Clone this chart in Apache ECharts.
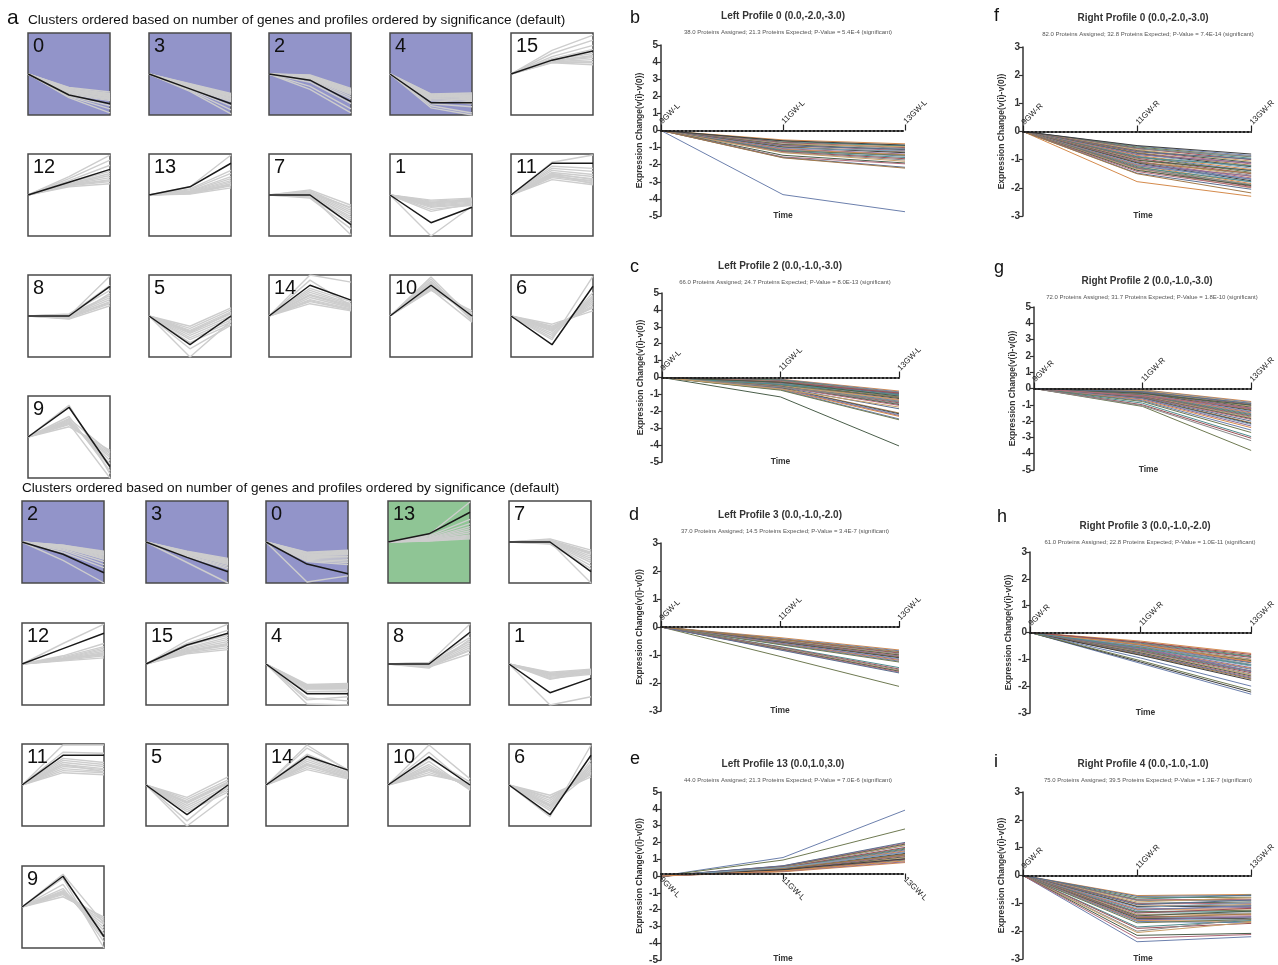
<!DOCTYPE html>
<html><head><meta charset="utf-8">
<script src="https://cdn.jsdelivr.net/npm/echarts@6/dist/echarts.min.js"></script>
<style>html,body{margin:0;padding:0;background:#fff}#c{width:1278px;height:965px}</style>
</head><body><div id="c"></div>
<script>
// ---------------- DATA ----------------
const smallX = ['t0','t1','t2'];
// Top grid (Right side clusters)
const rightIds = ['0','3','2','4','15','12','13','7','1','11','8','5','14','10','6','9'];
const rightFill = ['p','p','p','p','w','w','w','w','w','w','w','w','w','w','w','w'];
const rightModels = [
 [0,-2.05,-2.9],[0,-1.45,-2.9],[0,-0.6,-2.7],[0,-2.8,-2.8],[0,1.35,2.25],
 [0,1.25,2.5],[0,0.8,3.1],[0,0,-2.9],[0,-2.7,-1.2],[0,3.1,3.1],
 [0,0,2.9],[0,-2.8,0],[0,3.0,1.55],[0,3.0,0],[0,-2.8,2.9],
 [0,2.9,-2.9]
];
const rightGenes = [
 [[-1.3,-1.75],[-1.4,-1.9],[-1.5,-2.0],[-1.6,-2.1],[-1.7,-2.2],[-1.8,-2.35],[-1.9,-2.5],[-2.0,-2.6],[-1.5,-2.3],[-1.7,-2.45],[-2.2,-3.4],[-2.3,-3.8],[-2.1,-3.1],[-1.35,-1.95],[-1.55,-2.15],[-1.75,-2.4]],
 [[-0.95,-1.9],[-1.05,-2.05],[-1.1,-2.15],[-1.2,-2.3],[-1.25,-2.4],[-1.3,-2.5],[-1.35,-2.6],[-1.4,-2.7],[-1.5,-3.1],[-1.6,-3.5],[-1.7,-3.9],[-1.15,-2.2],[-1.0,-2.0],[-1.28,-2.45]],
 [[-0.1,-1.4],[-0.2,-1.5],[-0.3,-1.6],[-0.35,-1.7],[-0.4,-1.85],[-0.45,-2.0],[-0.5,-2.2],[-0.6,-2.4],[-0.8,-2.9],[-1.2,-3.4],[-1.5,-3.8],[-0.3,-1.9],[-0.15,-1.55],[-0.25,-1.75]],
 [[-1.95,-1.85],[-2.0,-1.95],[-2.1,-2.05],[-2.15,-2.15],[-2.2,-2.3],[-2.3,-2.4],[-2.4,-2.5],[-2.5,-2.7],[-2.6,-2.9],[-2.9,-3.2],[-3.1,-3.8],[-3.3,-4.0],[-2.25,-2.2],[-2.05,-2.1],[-2.35,-2.6]],
 [[1.1,0.9],[1.15,1.2],[1.2,1.4],[1.25,1.6],[1.3,1.8],[1.4,2.0],[1.5,2.4],[1.7,2.8],[2.0,3.3],[2.3,3.8],[1.2,1.1],[1.35,1.7]],
 [[0.8,1.1],[0.9,1.3],[0.95,1.5],[1.0,1.7],[1.05,1.9],[1.1,2.1],[1.2,2.3],[1.4,2.9],[1.6,3.4],[1.8,3.9],[1.0,1.4]],
 [[0.1,0.7],[0.15,0.9],[0.2,1.1],[0.25,1.25],[0.3,1.4],[0.35,1.6],[0.4,1.8],[0.5,2.1],[0.6,2.4],[0.8,3.9],[0.2,1.0]],
 [[0.5,-1.0],[0.4,-1.3],[0.3,-1.5],[0.2,-1.7],[0.1,-1.9],[0.0,-2.1],[0.05,-2.3],[-0.1,-2.5],[-0.2,-2.8],[-0.3,-3.3],[0.0,-3.9],[0.2,-1.2]],
 [[-0.5,-0.3],[-0.6,-0.4],[-0.7,-0.45],[-0.8,-0.5],[-0.9,-0.6],[-1.0,-0.7],[-1.1,-0.8],[-1.2,-0.9],[-1.4,-1.0],[-1.6,-0.85],[-4.0,-1.1],[-0.75,-0.55]],
 [[1.5,1.0],[1.7,1.2],[1.8,1.4],[1.9,1.3],[2.0,1.6],[2.1,1.5],[2.2,1.8],[2.4,2.0],[2.6,2.3],[2.8,2.6],[3.2,3.9],[2.0,1.1]],
 [[-0.3,1.0],[-0.2,1.2],[-0.1,1.4],[0,1.6],[0.1,1.8],[0.15,2.0],[-0.25,2.2],[0.2,2.5],[0.1,3.0],[0.0,3.9],[-0.1,1.3]],
 [[-1.0,0.8],[-1.2,0.6],[-1.4,0.4],[-1.5,0.2],[-1.7,0.0],[-1.9,-0.2],[-2.1,-0.4],[-2.3,-0.6],[-2.6,-0.8],[-3.2,-0.9],[-4.0,-0.5],[-1.6,0.3]],
 [[1.2,0.5],[1.4,0.6],[1.6,0.7],[1.8,0.8],[2.0,0.9],[2.1,1.0],[2.3,1.1],[2.5,1.2],[2.7,1.4],[4.0,3.3],[3.5,1.0],[1.5,0.6]],
 [[2.5,0.5],[2.7,0.3],[2.8,0.1],[2.9,-0.1],[3.1,-0.2],[3.2,-0.3],[3.4,-0.4],[3.6,-0.5],[3.8,-0.2],[3.3,0.2],[2.6,-0.6]],
 [[-0.8,0.5],[-1.0,0.8],[-1.1,1.0],[-1.3,1.2],[-1.4,1.4],[-1.5,1.6],[-1.7,1.8],[-1.9,2.0],[-2.1,2.3],[-2.3,3.9],[-1.2,0.9]],
 [[1.0,-1.3],[1.2,-1.6],[1.3,-1.8],[1.4,-2.0],[1.5,-2.3],[1.6,-2.6],[1.7,-2.9],[2.0,-3.3],[3.1,-3.6],[1.3,-4.0],[1.8,-1.5]]
];
// Bottom grid (Left side clusters)
const leftIds = ['2','3','0','13','7','12','15','4','8','1','11','5','14','10','6','9'];
const leftFill = ['p','p','p','g','w','w','w','w','w','w','w','w','w','w','w','w'];
const leftModels = [
 [0,-1.2,-3.0],[0,-1.5,-2.9],[0,-2.15,-3.1],[0,0.8,2.9],[0,0,-2.9],
 [0,1.5,3.0],[0,1.85,3.0],[0,-2.9,-2.9],[0,0,3.1],[0,-2.8,-1.4],
 [0,2.9,2.9],[0,-2.9,0],[0,2.8,1.45],[0,2.75,0],[0,-2.9,2.9],
 [0,3.0,-2.9]
];
const leftGenes = [
 [[-0.3,-0.9],[-0.35,-1.1],[-0.4,-1.2],[-0.45,-1.3],[-0.5,-1.4],[-0.55,-1.5],[-0.6,-1.6],[-0.7,-1.9],[-0.8,-2.2],[-1.0,-2.5],[-1.8,-4.0],[-0.5,-1.7],[-0.32,-1.0],[-0.42,-1.25]],
 [[-0.9,-1.6],[-1.0,-1.75],[-1.05,-1.9],[-1.1,-2.0],[-1.15,-2.1],[-1.2,-2.2],[-1.3,-2.35],[-1.35,-2.5],[-1.4,-2.65],[-2.0,-4.0],[-1.2,-1.8],[-0.95,-1.7],[-1.08,-1.95]],
 [[-1.0,-0.8],[-1.1,-1.0],[-1.2,-1.1],[-1.3,-1.25],[-1.4,-1.4],[-1.5,-1.55],[-1.6,-1.7],[-1.7,-1.85],[-1.8,-2.0],[-1.9,-2.2],[-3.9,-3.3],[-1.35,-1.2],[-1.05,-0.9],[-1.25,-1.15]],
 [[0.1,0.3],[0.15,0.5],[0.2,0.7],[0.25,0.9],[0.3,1.1],[0.35,1.3],[0.4,1.5],[0.5,1.8],[0.6,2.2],[0.7,3.9],[0.2,0.6],[0.12,0.4]],
 [[0.3,-0.8],[0.2,-1.0],[0.15,-1.2],[0.1,-1.4],[0.05,-1.6],[0,-1.8],[-0.1,-2.0],[-0.15,-2.3],[-0.2,-2.6],[0.0,-4.0],[0.1,-1.1]],
 [[0.3,0.6],[0.35,0.8],[0.4,1.0],[0.45,1.1],[0.5,1.25],[0.55,1.4],[0.6,1.55],[0.7,1.7],[0.8,2.0],[2.0,3.9],[0.5,0.9]],
 [[1.0,1.4],[1.1,1.6],[1.2,1.8],[1.3,2.0],[1.4,2.2],[1.5,2.4],[1.6,2.6],[1.8,2.8],[2.0,3.3],[2.3,3.9],[1.25,1.9]],
 [[-2.0,-1.9],[-2.05,-2.0],[-2.1,-2.1],[-2.2,-2.2],[-2.3,-2.3],[-2.4,-2.4],[-2.5,-2.55],[-2.7,-2.7],[-3.3,-3.6],[-3.9,-4.0],[-2.2,-2.0],[-3.5,-3.2]],
 [[-0.3,1.0],[-0.25,1.3],[-0.2,1.6],[-0.1,1.8],[0,2.0],[0.1,2.2],[-0.4,2.4],[0.15,2.6],[0.0,3.0],[0.1,3.9],[-0.2,1.4]],
 [[-0.8,-0.5],[-0.9,-0.6],[-1.0,-0.65],[-1.05,-0.7],[-1.1,-0.8],[-1.2,-0.85],[-1.3,-0.9],[-1.4,-1.0],[-1.5,-0.75],[-4.0,-3.2],[-1.0,-0.55]],
 [[1.2,1.0],[1.4,1.2],[1.6,1.3],[1.8,1.5],[2.0,1.6],[2.2,1.8],[2.4,2.0],[2.6,2.2],[3.2,3.1],[3.9,3.9],[2.0,1.3]],
 [[-1.2,0.8],[-1.4,0.5],[-1.6,0.3],[-1.8,0.1],[-2.0,-0.1],[-2.2,-0.3],[-2.4,-0.5],[-2.6,-0.7],[-3.5,-0.2],[-4.0,-1.0],[-1.7,0.2]],
 [[1.5,0.6],[1.7,0.7],[1.9,0.8],[2.1,0.9],[2.3,1.0],[2.5,1.1],[2.7,1.2],[3.0,1.35],[3.6,1.5],[3.9,1.4],[2.0,0.7]],
 [[1.0,0.2],[1.2,0.0],[1.4,-0.1],[1.6,-0.2],[1.8,-0.3],[2.0,-0.4],[2.3,-0.5],[2.6,0.3],[3.9,0.6],[3.2,-0.2],[1.5,0.1]],
 [[-1.0,0.8],[-1.3,1.1],[-1.5,1.3],[-1.7,1.5],[-1.9,1.7],[-2.1,1.9],[-2.3,2.1],[-2.5,2.4],[-3.1,3.9],[-2.0,1.2],[-1.2,1.0]],
 [[1.0,-1.0],[1.2,-1.4],[1.3,-1.7],[1.4,-2.0],[1.5,-2.3],[1.6,-2.6],[1.8,-3.0],[2.2,-3.4],[3.2,-1.6],[2.8,-4.0],[1.4,-1.2]]
];

const timeLeft = ['9GW-L','11GW-L','13GW-L'];
const timeRight = ['9GW-R','11GW-R','13GW-R'];

// each protein: [value at 11GW, value at 13GW]; value at 9GW is 0
const profB = [[-0.55,-0.78],[-3.75,-4.75],[-0.62,-0.92],[-0.68,-0.88],[-0.7,-1.0],[-0.74,-1.05],[-0.8,-0.95],[-0.82,-1.12],[-0.86,-1.18],[-0.9,-1.1],[-0.95,-1.25],[-0.98,-1.3],[-1.02,-1.2],[-1.06,-1.38],[-1.1,-1.42],[-1.14,-1.5],[-1.18,-1.45],[-1.2,-1.58],[-1.24,-1.65],[-1.28,-1.72],[-1.3,-1.8],[-1.45,-1.9],[-1.55,-1.95],[-1.58,-2.15],[-1.6,-2.2],[-0.6,-0.85]];
const profC = [[-0.1,-0.8],[-0.12,-0.85],[-0.15,-0.9],[-0.18,-0.95],[-0.2,-1.0],[-0.22,-0.88],[-0.25,-1.05],[-1.15,-4.05],[-0.3,-1.15],[-0.3,-0.98],[-0.33,-1.2],[-0.35,-1.25],[-0.36,-1.08],[-0.38,-1.3],[-0.4,-1.35],[-0.42,-1.4],[-0.44,-1.18],[-0.45,-1.45],[-0.48,-1.5],[-0.5,-1.55],[-0.5,-1.3],[-0.52,-1.6],[-0.55,-1.65],[-0.58,-1.85],[-0.6,-2.1],[-0.62,-2.15],[-0.64,-2.2],[-0.66,-2.25],[-0.7,-2.3],[-0.72,-2.45],[-0.75,-2.5],[-0.4,-1.02],[-0.26,-0.92],[-0.56,-1.42],[-0.68,-1.75],[-0.28,-1.1]];
const profD = [[-0.38,-0.82],[-0.41,-0.85],[-1.05,-2.12],[-0.44,-0.91],[-0.45,-0.93],[-0.47,-0.96],[-0.48,-0.99],[-0.5,-1.0],[-0.51,-1.03],[-0.52,-1.06],[-0.54,-1.08],[-0.55,-1.1],[-0.57,-1.13],[-0.58,-1.16],[-0.6,-1.19],[-0.61,-1.22],[-0.63,-1.25],[-0.7,-1.45],[-0.72,-1.5],[-0.74,-1.53],[-0.77,-1.56],[-0.78,-1.58],[-0.8,-1.61],[-0.82,-1.64],[-0.43,-0.88]];
const profE = [[0.25,0.8],[1.1,3.92],[0.95,2.8],[0.31,0.95],[0.32,1.0],[0.34,1.05],[0.35,1.1],[0.36,1.15],[0.38,1.2],[0.4,1.25],[0.41,1.3],[0.42,1.35],[0.44,1.4],[0.45,1.45],[0.46,1.5],[0.48,1.55],[0.5,1.6],[0.51,1.65],[0.52,1.7],[0.55,1.8],[0.56,1.85],[0.58,1.9],[0.6,1.95],[0.61,2.0],[0.45,1.25],[0.38,1.02],[0.5,1.4],[0.28,0.85],[0.3,0.9]];
const profF = [[-1.78,-2.3],[-0.52,-0.85],[-0.55,-0.9],[-0.58,-0.95],[-0.6,-1.0],[-0.62,-0.88],[-0.65,-1.05],[-0.68,-1.1],[-0.7,-1.15],[-0.72,-0.98],[-0.75,-1.2],[-0.78,-1.25],[-0.8,-1.3],[-0.82,-1.12],[-0.85,-1.35],[-0.88,-1.4],[-0.9,-1.45],[-0.92,-1.22],[-0.95,-1.5],[-0.98,-1.55],[-1.0,-1.6],[-1.02,-1.38],[-1.05,-1.65],[-1.08,-1.7],[-1.1,-1.48],[-1.12,-1.75],[-1.15,-1.8],[-1.18,-1.58],[-1.2,-1.85],[-1.22,-1.68],[-1.25,-1.9],[-1.28,-1.78],[-1.3,-1.95],[-1.32,-1.88],[-1.35,-2.0],[-1.38,-1.92],[-1.42,-1.98],[-1.48,-2.05],[-1.5,-2.18],[-0.5,-0.8]];
const profG = [[-0.08,-0.8],[-0.1,-0.85],[-1.1,-3.8],[-0.14,-0.95],[-0.15,-1.0],[-0.18,-1.05],[-0.2,-1.1],[-0.22,-1.15],[-0.24,-1.2],[-0.25,-1.25],[-0.28,-1.3],[-0.3,-1.35],[-0.32,-1.4],[-0.34,-1.45],[-0.35,-1.5],[-0.38,-1.55],[-0.4,-1.6],[-0.42,-1.65],[-0.44,-1.7],[-0.46,-1.75],[-0.48,-1.8],[-0.5,-1.85],[-0.52,-1.9],[-0.55,-2.0],[-0.58,-2.1],[-0.6,-2.15],[-0.62,-2.2],[-0.65,-2.3],[-0.7,-2.4],[-0.75,-2.55],[-0.8,-2.7],[-0.9,-2.95],[-1.0,-3.05],[-1.05,-3.2],[-0.12,-0.9],[-0.3,-1.02],[-0.45,-1.22],[-0.2,-0.92]];
const profH = [[-0.32,-0.78],[-1.15,-2.3],[-0.37,-0.87],[-0.4,-0.9],[-0.43,-0.93],[-0.44,-0.99],[-0.47,-1.02],[-0.48,-1.05],[-0.5,-1.1],[-0.53,-1.13],[-0.54,-1.19],[-1.1,-2.22],[-0.58,-1.25],[-0.6,-1.31],[-0.63,-1.34],[-0.64,-1.37],[-0.66,-1.43],[-0.69,-1.46],[-0.7,-1.5],[-0.72,-1.55],[-0.75,-1.58],[-0.76,-1.62],[-0.79,-1.66],[-0.8,-1.7],[-0.83,-1.73],[-0.85,-1.78],[-0.5,-1.2],[-0.6,-1.44],[-0.45,-1.08],[-0.95,-2.0],[-1.05,-2.15],[-0.57,-1.22],[-0.36,-0.82]];
const profI = [[-0.72,-0.68],[-2.38,-2.2],[-0.8,-0.78],[-0.85,-0.7],[-0.88,-0.85],[-0.9,-0.9],[-0.95,-0.8],[-1.0,-0.95],[-1.02,-1.0],[-1.05,-0.88],[-1.1,-1.05],[-1.12,-1.1],[-1.15,-0.98],[-1.2,-1.15],[-1.22,-1.2],[-1.25,-1.08],[-1.3,-1.25],[-1.32,-1.3],[-1.35,-1.18],[-1.4,-1.35],[-1.42,-1.4],[-1.45,-1.28],[-1.48,-1.45],[-1.5,-1.5],[-1.52,-1.38],[-1.55,-1.55],[-1.58,-1.6],[-1.6,-1.48],[-1.62,-1.65],[-1.65,-1.7],[-1.7,-1.58],[-1.85,-1.62],[-1.9,-1.72],[-2.0,-1.55],[-2.05,-1.68],[-2.15,-2.08],[-2.25,-2.12],[-0.75,-0.72]];

const panelTitles = ['Left Profile 0 (0.0,-2.0,-3.0)','Left Profile 2 (0.0,-1.0,-3.0)','Left Profile 3 (0.0,-1.0,-2.0)','Left Profile 13 (0.0,1.0,3.0)',
 'Right Profile 0 (0.0,-2.0,-3.0)','Right Profile 2 (0.0,-1.0,-3.0)','Right Profile 3 (0.0,-1.0,-2.0)','Right Profile 4 (0.0,-1.0,-1.0)'];
const panelSubs = ['38.0 Proteins Assigned; 21.3 Proteins Expected; P-Value = 5.4E-4 (significant)',
 '66.0 Proteins Assigned; 24.7 Proteins Expected; P-Value = 8.0E-13 (significant)',
 '37.0 Proteins Assigned; 14.5 Proteins Expected; P-Value = 3.4E-7 (significant)',
 '44.0 Proteins Assigned; 21.3 Proteins Expected; P-Value = 7.0E-6 (significant)',
 '82.0 Proteins Assigned; 32.8 Proteins Expected; P-Value = 7.4E-14 (significant)',
 '72.0 Proteins Assigned; 31.7 Proteins Expected; P-Value = 1.8E-10 (significant)',
 '61.0 Proteins Assigned; 22.8 Proteins Expected; P-Value = 1.0E-11 (significant)',
 '75.0 Proteins Assigned; 39.5 Proteins Expected; P-Value = 1.3E-7 (significant)'];
const panelLetters = ['b','c','d','e','f','g','h','i'];
const clusterHeading = 'Clusters ordered based on number of genes and profiles ordered by significance (default)';

// ---------------- LAYOUT / STYLE ----------------
const FONT = '"Liberation Sans", Arial, Helvetica, sans-serif';
const fillColors = {p:'#9294c9', g:'#8fc595', w:'#ffffff'};
const palette = ['#d58b4c','#6c80ad','#6f7a52','#4f8c8d','#9c5058','#8a8a8a','#c9a06a','#4a5e4a','#b06a7a','#5a6f8f','#a37a4a','#3f3f3f','#7fa0b8','#8a6a9a'];
const BOX = 82;
const topCols = [28,149,269,390,511], topRows = [33,154,275,396];
const botCols = [22,146,266,388,509], botRows = [501,623,744,866];
const big = [
 {l:661,t:45,w:244,h:171,ym:5,time:timeLeft,data:profB,below:false,tx:783,ty:16,lx:630,ly:18},
 {l:662,t:293,w:237,h:169,ym:5,time:timeLeft,data:profC,below:false,tx:780,ty:266,lx:630,ly:267},
 {l:661,t:543,w:238,h:168,ym:3,time:timeLeft,data:profD,below:false,tx:780,ty:515,lx:629,ly:515},
 {l:661,t:792,w:244,h:173,ym:5,time:timeLeft,data:profE,below:true,tx:783,ty:764,lx:630,ly:759},
 {l:1023,t:47,w:240,h:169,ym:3,time:timeRight,data:profF,below:false,tx:1143,ty:18,lx:994,ly:16},
 {l:1034,t:307,w:229,h:163,ym:5,time:timeRight,data:profG,below:false,tx:1147,ty:281,lx:994,ly:268},
 {l:1030,t:552,w:231,h:161,ym:3,time:timeRight,data:profH,below:false,tx:1145,ty:526,lx:997,ly:517},
 {l:1023,t:792,w:240,h:167,ym:3,time:timeRight,data:profI,below:false,tx:1143,ty:764,lx:994,ly:762}
];

const grids = [], xAxes = [], yAxes = [], series = [], graphics = [];
function txt(x, y, s, font, fill, align, va) {
  graphics.push({type:'text', x:x, y:y, z:100, silent:true,
    style:{text:s, font:font, fill:fill||'#111', align:align||'left', verticalAlign:va||'middle',
           textAlign:align||'left', textVerticalAlign:va||'middle'}});
}

function addSmall(ids, fills, models, genes, cols, rows) {
  ids.forEach(function(id, k) {
    const gi = grids.length;
    const left = cols[k % 5], top = rows[Math.floor(k / 5)];
    grids.push({left:left, top:top, width:BOX, height:BOX, show:true,
      backgroundColor:fillColors[fills[k]], borderColor:'#4a4a4a', borderWidth:1.5, containLabel:false});
    xAxes.push({type:'category', gridIndex:gi, data:smallX, boundaryGap:false, show:false});
    yAxes.push({type:'value', gridIndex:gi, min:-4, max:4, show:false});
    genes[k].forEach(function(g) {
      series.push({type:'line', xAxisIndex:gi, yAxisIndex:gi, data:[0, g[0], g[1]], symbol:'none', silent:true,
        lineStyle:{color:'#cdcdcd', width:1.4}, z:2});
    });
    series.push({type:'line', xAxisIndex:gi, yAxisIndex:gi, data:models[k], symbol:'none', silent:true,
      lineStyle:{color:'#1a1a1a', width:1.5}, z:3});
    txt(left + 5, top + 3, id, '20px ' + FONT, '#111', 'left', 'top');
  });
}
addSmall(rightIds, rightFill, rightModels, rightGenes, topCols, topRows);
addSmall(leftIds, leftFill, leftModels, leftGenes, botCols, botRows);

txt(7, 18, 'a', '21px ' + FONT, '#111');
txt(28, 20, clusterHeading, '13.6px ' + FONT, '#111');
txt(22, 488, clusterHeading, '13.6px ' + FONT, '#111');

big.forEach(function(p, k) {
  const gi = grids.length;
  grids.push({left:p.l, top:p.t, width:p.w, height:p.h, containLabel:false});
  xAxes.push({type:'category', gridIndex:gi, data:p.time, boundaryGap:false, z:6,
    position:'bottom', offset:-p.h / 2,
    axisLine:{show:true, onZero:false, lineStyle:{color:'#222', width:2, type:'dotted'}},
    axisTick:{show:true, inside:!p.below, length:6, alignWithLabel:true, lineStyle:{color:'#222', width:1.2}},
    axisLabel:{show:true, inside:!p.below, rotate:p.below ? -45 : 45, margin:p.below ? 5 : 8, interval:0,
      fontSize:8, color:'#222', fontFamily:FONT},
    splitLine:{show:false}});
  yAxes.push({type:'value', gridIndex:gi, min:-p.ym, max:p.ym, interval:1,
    axisLine:{show:true, onZero:false, lineStyle:{color:'#333', width:1.5}},
    axisTick:{show:true, length:4, lineStyle:{color:'#333', width:1.2}},
    axisLabel:{fontSize:10, fontWeight:'bold', color:'#333', margin:3, fontFamily:FONT},
    splitLine:{show:false},
    name:'Expression Change(v(i)-v(0))', nameLocation:'middle', nameGap:17,
    nameTextStyle:{fontSize:8.5, fontWeight:'bold', color:'#333', fontFamily:FONT}});
  p.data.forEach(function(d, j) {
    series.push({type:'line', xAxisIndex:gi, yAxisIndex:gi, data:[0, d[0], d[1]], symbol:'none', silent:true,
      lineStyle:{color:palette[j % palette.length], width:1}, z:2});
  });
  txt(p.lx, p.ly, panelLetters[k], '18px ' + FONT, '#111');
  txt(p.tx, p.ty, panelTitles[k], 'bold 10px ' + FONT, '#333', 'center');
  txt(p.tx + 5, p.ty + 16, panelSubs[k], '6px ' + FONT, '#555', 'center');
  txt(p.l + p.w / 2, Math.min(p.t + p.h, 959), 'Time', 'bold 8.5px ' + FONT, '#333', 'center');
});

const chart = echarts.init(document.getElementById('c'), null, {renderer:'canvas'});
chart.setOption({
  animation:false,
  backgroundColor:'#ffffff',
  textStyle:{fontFamily:FONT},
  grid:grids, xAxis:xAxes, yAxis:yAxes, series:series, graphic:graphics
});
</script>
</body></html>
